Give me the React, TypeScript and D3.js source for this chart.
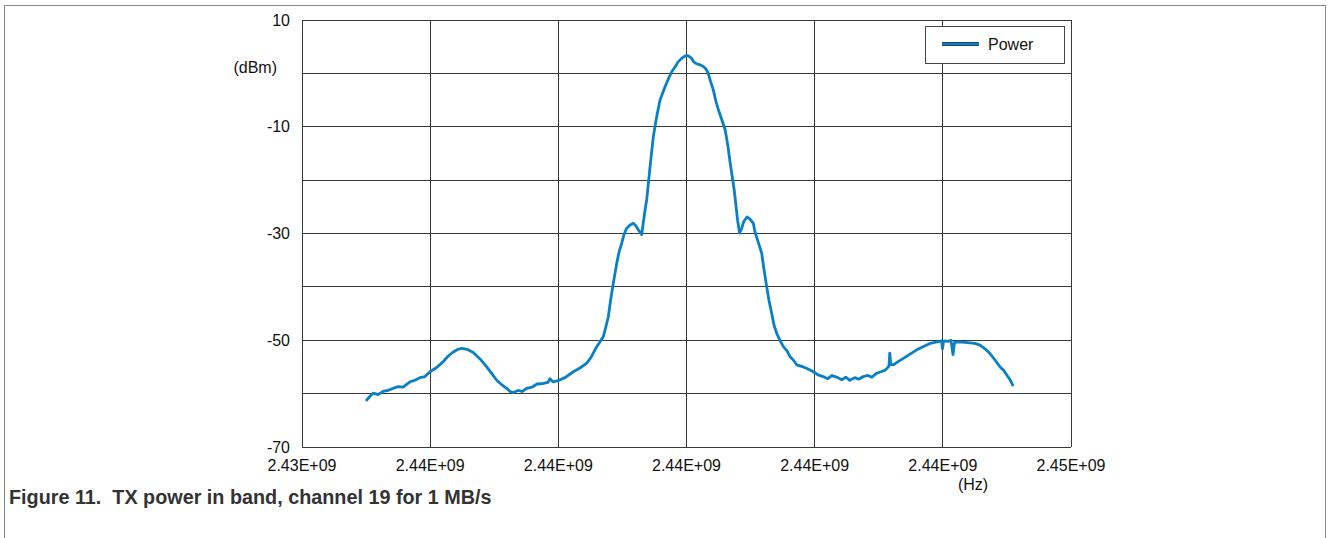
import React from "react";
import * as d3 from "d3";

// Frequency in MHz, power in dBm
const freqMHz: number[] = [
  2435.01, 2435.061, 2435.113, 2435.186, 2435.264, 2435.342, 2435.425, 2435.498, 2435.576, 2435.685,
  2435.763, 2435.841, 2435.919, 2435.998, 2436.091, 2436.205, 2436.278, 2436.361, 2436.434, 2436.492,
  2436.575, 2436.673, 2436.778, 2436.882, 2436.965, 2437.038, 2437.105, 2437.194, 2437.246, 2437.297,
  2437.371, 2437.433, 2437.507, 2437.589, 2437.667, 2437.766, 2437.839, 2437.87, 2437.917, 2438.011,
  2438.104, 2438.234, 2438.338, 2438.443, 2438.51, 2438.599, 2438.666, 2438.702, 2438.729, 2438.78,
  2438.822, 2438.858, 2438.911, 2438.947, 2438.989, 2439.025, 2439.067, 2439.119, 2439.17, 2439.212,
  2439.248, 2439.301, 2439.353, 2439.379, 2439.431, 2439.482, 2439.535, 2439.587, 2439.665, 2439.712,
  2439.769, 2439.821, 2439.872, 2439.93, 2440.003, 2440.039, 2440.081, 2440.117, 2440.159, 2440.211,
  2440.262, 2440.304, 2440.34, 2440.375, 2440.418, 2440.46, 2440.5, 2440.549, 2440.604, 2440.651,
  2440.683, 2440.745, 2440.797, 2440.828, 2440.863, 2440.891, 2440.944, 2440.991, 2441.043, 2441.069,
  2441.124, 2441.174, 2441.21, 2441.252, 2441.288, 2441.33, 2441.366, 2441.408, 2441.459, 2441.511,
  2441.569, 2441.616, 2441.667, 2441.72, 2441.772, 2441.823, 2441.897, 2441.979, 2442.053, 2442.132,
  2442.206, 2442.268, 2442.341, 2442.424, 2442.486, 2442.549, 2442.627, 2442.689, 2442.757, 2442.83,
  2442.892, 2442.965, 2443.036, 2443.101, 2443.148, 2443.16, 2443.172, 2443.188, 2443.229, 2443.302,
  2443.384, 2443.488, 2443.593, 2443.691, 2443.8, 2443.909, 2443.98, 2443.995, 2444.01, 2444.034,
  2444.081, 2444.128, 2444.159, 2444.183, 2444.268, 2444.346, 2444.424, 2444.502, 2444.58, 2444.658,
  2444.736, 2444.814, 2444.893, 2444.947, 2444.997, 2445.049, 2445.091,
];

const powerDbm: number[] = [
  -61.2, -60.5, -59.9, -60.2, -59.6, -59.4, -59.0, -58.7, -58.8, -57.8,
  -57.5, -57.0, -56.8, -55.9, -55.2, -54.0, -53.0, -52.2, -51.7, -51.5,
  -51.7, -52.3, -53.5, -55.0, -56.3, -57.5, -58.2, -59.0, -59.6, -59.8,
  -59.4, -59.6, -59.0, -58.8, -58.2, -58.1, -57.9, -57.2, -57.8, -57.5,
  -57.0, -55.9, -55.2, -54.3, -53.2, -51.2, -50.0, -49.3, -48.1, -45.6,
  -42.0, -39.3, -35.6, -33.5, -31.8, -30.2, -29.0, -28.4, -28.1, -28.6,
  -29.3, -30.2, -25.6, -23.7, -17.5, -11.9, -8.1, -5.0, -2.5, -1.2,
  0.3, 1.2, 2.2, 2.9, 3.4, 3.2, 2.8, 2.1, 1.8, 1.6,
  1.3, 0.8, 0.0, -1.5, -3.1, -5.3, -6.9, -8.6, -10.6, -14.0,
  -16.9, -21.9, -27.5, -29.9, -29.0, -27.8, -26.9, -27.3, -28.1, -29.7,
  -31.8, -33.7, -36.8, -40.0, -42.6, -45.0, -47.2, -48.7, -50.0, -51.2,
  -52.0, -53.1, -53.7, -54.6, -54.8, -55.0, -55.4, -55.9, -56.5, -56.8,
  -57.2, -56.6, -56.9, -57.4, -56.9, -57.5, -57.0, -57.3, -56.8, -56.6,
  -56.9, -56.2, -55.9, -55.6, -55.0, -54.8, -52.4, -54.5, -54.6, -54.0,
  -53.4, -52.6, -51.8, -51.2, -50.6, -50.3, -50.1, -51.6, -50.2, -50.1,
  -50.2, -50.0, -52.7, -50.4, -50.3, -50.4, -50.5, -50.6, -50.9, -51.6,
  -52.5, -53.7, -55.0, -55.6, -56.5, -57.4, -58.4,
];

const xTickValues: number[] = [2434, 2436, 2438, 2440, 2442, 2444, 2446];
const xTickLabels: string[] = ["2.43E+09", "2.44E+09", "2.44E+09", "2.44E+09", "2.44E+09", "2.44E+09", "2.45E+09"];
const yGridValues: number[] = [10, 0, -10, -20, -30, -40, -50, -60, -70];
const yTickValues: number[] = [10, -10, -30, -50, -70];
const yTickLabels: string[] = ["10", "-10", "-30", "-50", "-70"];
const seriesName = "Power";
const yUnit = "(dBm)";
const xUnit = "(Hz)";
const caption = "Figure 11.  TX power in band, channel 19 for 1 MB/s";

export default function App() {
  const W = 1328;
  const H = 538;
  const left = 302, right = 1071, top = 20, bottom = 447;
  const x = d3.scaleLinear().domain([2434, 2446]).range([left, right]);
  const y = d3.scaleLinear().domain([-70, 10]).range([bottom, top]);
  const pts: [number, number][] = freqMHz.map((f, i) => [f, powerDbm[i]]);
  const line = d3
    .line<[number, number]>()
    .x((d) => x(d[0]))
    .y((d) => y(d[1]));
  const font = "'Liberation Sans', Arial, Helvetica, sans-serif";
  const gridColor = "#3a3a3a";
  const blue = "#0a80c4";

  return (
    <svg
      width={W}
      height={H}
      style={{ position: "absolute", left: 0, top: 0, background: "#fff" }}
      fontFamily={font}
    >
      <rect x={4.5} y={5.5} width={1321} height={560} fill="#fff" stroke="#8a8a8a" strokeWidth={1} />
      {/* grid */}
      <g shapeRendering="crispEdges">
        {xTickValues.map((v) => (
          <line key={"gx" + v} x1={x(v)} x2={x(v)} y1={top} y2={bottom} stroke={gridColor} strokeWidth={1} />
        ))}
        {yGridValues.map((v) => (
          <line key={"gy" + v} x1={left} x2={right} y1={y(v)} y2={y(v)} stroke={gridColor} strokeWidth={1} />
        ))}
      </g>
      {/* series */}
      <path d={line(pts) || ""} fill="none" stroke={blue} strokeWidth={2.8} strokeLinejoin="round" strokeLinecap="round" />
      {/* y labels */}
      {yTickValues.map((v, i) => (
        <text key={"yt" + v} x={290} y={y(v)} dy="0.35em" textAnchor="end" fontSize={16} fill="#111">
          {yTickLabels[i]}
        </text>
      ))}
      <text x={277} y={67} dy="0.35em" textAnchor="end" fontSize={16} fill="#111">
        {yUnit}
      </text>
      {/* x labels */}
      {xTickValues.map((v, i) => (
        <text key={"xt" + i} x={x(v)} y={471} textAnchor="middle" fontSize={16} fill="#111">
          {xTickLabels[i]}
        </text>
      ))}
      <text x={973} y={490} textAnchor="middle" fontSize={16} fill="#111">
        {xUnit}
      </text>
      {/* legend */}
      <rect x={925.5} y={26.5} width={139} height={37} fill="#fff" stroke="#444" strokeWidth={1} shapeRendering="crispEdges" />
      <line x1={942} x2={979} y1={44} y2={44} stroke="#1c4a73" strokeWidth={4} />
      <line x1={942} x2={979} y1={44} y2={44} stroke={blue} strokeWidth={2} />
      <text x={988} y={44} dy="0.35em" fontSize={16} fill="#111">
        {seriesName}
      </text>
      {/* caption */}
      <text x={9} y={504} fontSize={19.8} fontWeight="bold" fill="#333" style={{ whiteSpace: "pre" }}>
        {caption}
      </text>
    </svg>
  );
}
